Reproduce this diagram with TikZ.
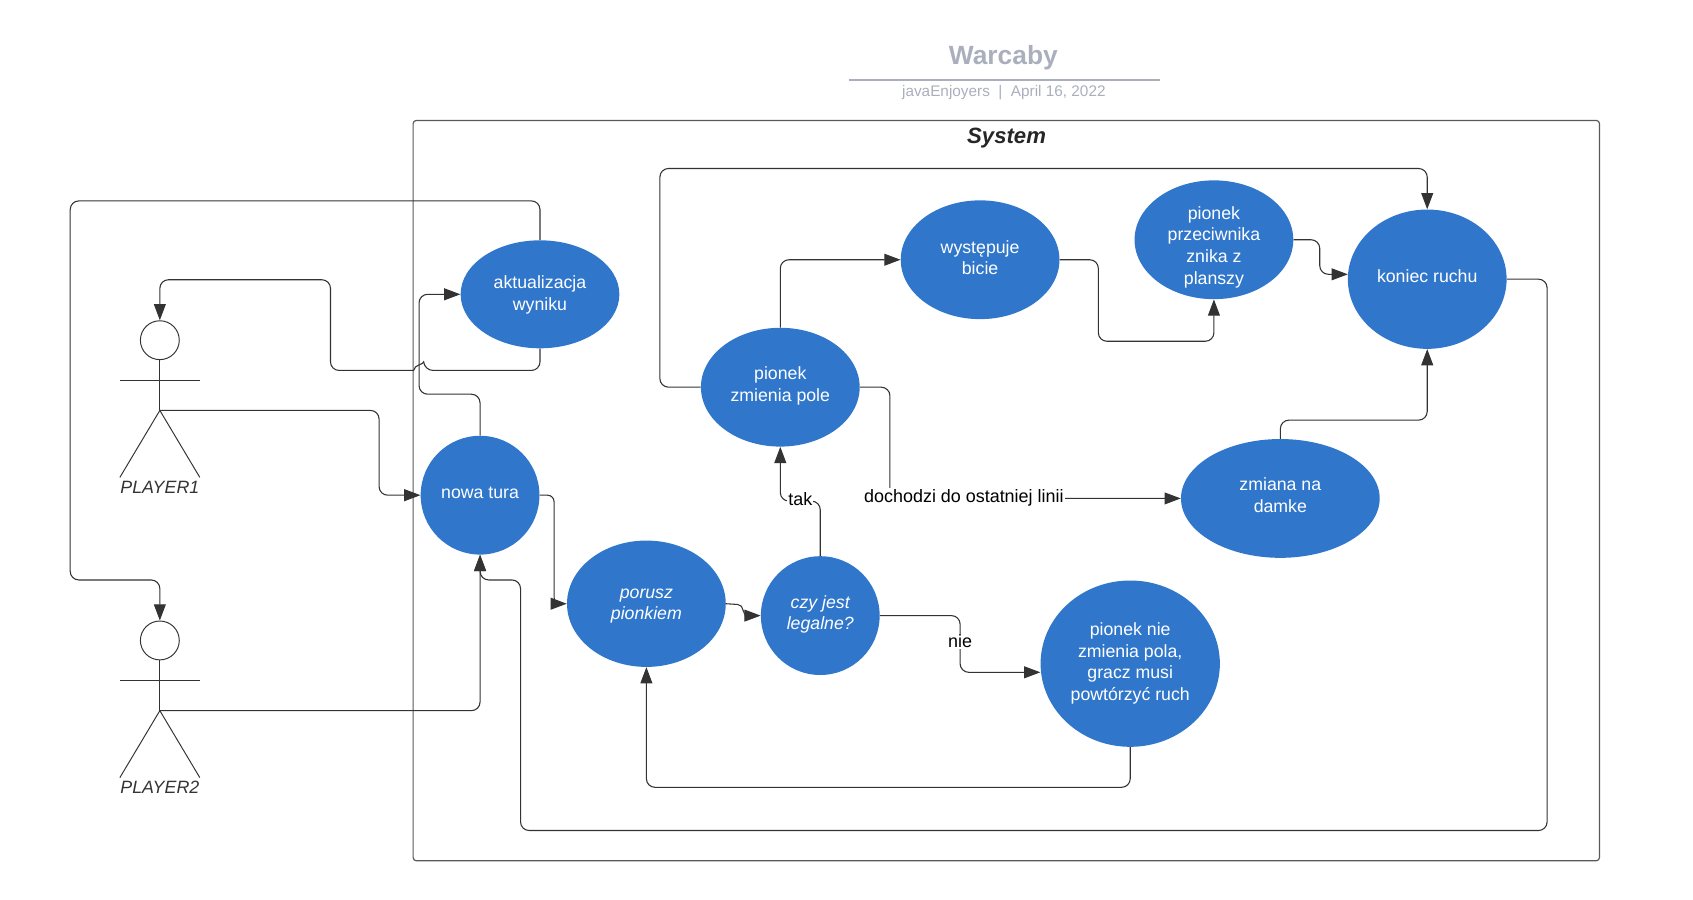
\documentclass[tikz,border=0pt]{standalone}
\usepackage{xcolor}
\usepackage{fontspec}
\setmainfont{Liberation Sans}
\usepackage{tikz}
\usetikzlibrary{shapes.geometric, arrows.meta}
\definecolor{lucidblue}{HTML}{3077CC}
\definecolor{titlegray}{HTML}{A9AFBC}
\definecolor{darkline}{HTML}{333333}
\tikzset{
	usecase/.style={ellipse, fill=lucidblue, text=white, align=center, inner sep=-6pt, font=\fontsize{16.4}{20}\selectfont,
		execute at end node=\rule[-10pt]{0pt}{0pt}},
	texty/.style={execute at begin node=\rule{0pt}{#1pt}},
	conn/.style={darkline, line width=1pt, rounded corners=8pt, -{Triangle[length=15pt, width=11pt]}},
	edgelabel/.style={fill=white, text=black, inner sep=1pt, font=\fontsize{16.6}{20}\selectfont},
	actorline/.style={darkline, line width=0.9pt},
	actorlabel/.style={text=darkline, font=\fontsize{16.5}{20}\selectfont\itshape}
}

\begin{document}
\begin{tikzpicture}[x=1pt, y=-1pt]
	\useasboundingbox (0,0) rectangle (1567.6,833.3);
	\pgfmathsetmacro{\armx}{37}
	
	\node[text=titlegray, font=\fontsize{24.4}{28}\selectfont\bfseries] (title) at (929,53) {Warcaby};
	\draw[titlegray, line width=2pt] (786,74) -- (1074.5,74);
	\node[text=titlegray, font=\fontsize{14.2}{17}\selectfont] (subtitle) at (929.5,86) {javaEnjoyers~~|~~April 16, 2022};
	
	\draw[black!65, line width=1.1pt, rounded corners=3pt] (382.5,111.5) rectangle (1481,797);
	\node[text=black!85, font=\fontsize{20.5}{24}\selectfont\bfseries\itshape] (system) at (932,128) {System};
	
	\node[usecase, texty=40, minimum width=147pt, minimum height=100pt] (aktualizacja) at (500,272.5) {aktualizacja\\wyniku};
	\node[usecase, texty=16, minimum width=110pt, minimum height=110pt] (nowatura) at (444.5,458.5) {nowa tura};
	\node[usecase, texty=40, minimum width=147pt, minimum height=117pt] (porusz) at (598.5,559) {\itshape porusz\\\itshape pionkiem};
	\node[usecase, texty=36, minimum width=110pt, minimum height=110pt] (legalne) at (759.5,570) {\itshape czy jest\\\itshape legalne?};
	\node[usecase, texty=36, minimum width=147pt, minimum height=110pt] (zmienia) at (722.5,358.5) {pionek\\zmienia pole};
	\node[usecase, texty=38, minimum width=147pt, minimum height=110pt] (bicie) at (907.5,240.5) {występuje\\bicie};
	\node[usecase, texty=92, minimum width=147pt, minimum height=110pt, inner sep=-22pt] (znika) at (1124,222) {pionek\\przeciwnika\\znika z\\planszy};
	\node[usecase, texty=16, minimum width=147pt, minimum height=129pt] (koniec) at (1321.5,258.5) {koniec ruchu};
	\node[usecase, texty=36, minimum width=184pt, minimum height=110pt] (damka) at (1185.5,461.5) {zmiana na\\damke};
	\node[usecase, texty=78, minimum width=166pt, minimum height=154pt] (powtorz) at (1046.5,614.5) {pionek nie\\zmienia pola,\\gracz musi\\powtórzyć ruch};
	
	\node[draw=darkline, line width=0.9pt, circle, minimum size=36pt, inner sep=0pt] (player1) at (148,315) {};
	\coordinate (hip1) at (148,380);
	\draw[actorline] (player1.south) -- (hip1);
	\draw[actorline] (148-\armx,352) -- (148+\armx,352);
	\draw[actorline] (148-\armx,442) -- (hip1) -- (148+\armx,442);
	\node[actorlabel] (label1) at (148,451) {PLAYER1};
	
	\node[draw=darkline, line width=0.9pt, circle, minimum size=36pt, inner sep=0pt] (player2) at (148,593) {};
	\coordinate (hip2) at (148,658);
	\draw[actorline] (player2.south) -- (hip2);
	\draw[actorline] (148-\armx,630) -- (148+\armx,630);
	\draw[actorline] (148-\armx,720) -- (hip2) -- (148+\armx,720);
	\node[actorlabel] (label2) at (148,729) {PLAYER2};
	
	\draw[conn] (aktualizacja.north) |- (65,186) -- (65,537) -| (player2.north);
	\draw[conn] (aktualizacja.south) |- (393,343) [sharp corners] .. controls (392.5,337.5) and (383.5,337.5) .. (383,343) [rounded corners=8pt] -- (306,343) -- (306,259) -| (player1.north);
	\draw[conn] (nowatura.north) |- (388,365) -- (388,272.5) -- (aktualizacja.west);
	\draw[conn] (hip1) -| (351,458.5) -- (nowatura.west);
	\draw[conn] (hip2) -| (nowatura.south);
	\draw[conn, rounded corners=6pt] (nowatura.east) -| (513,559) -- (porusz.west);
	\draw[conn, rounded corners=5pt] (porusz.east) -- (688,560) |- (legalne.west);
	\draw[conn] (legalne.north) |- (722.5,464) -- (zmienia.south);
	\draw[conn] (legalne.east) -| (889,622.5) -- (powtorz.west |- 889,622.5);
	\draw[conn] (powtorz.south) |- (598.5,729) -- (porusz.south);
	\draw[conn] (zmienia.north) |- (bicie.west);
	\draw[conn] (bicie.east) -| (1017,316) -| (znika.south);
	\draw[conn] (znika.east) -| (1222,254) -- (1248,254);
	\draw[conn] (zmienia.west) -| (611,156) -| (koniec.north);
	\draw[conn] (zmienia.east) -| (824,461.5) -- (damka.west);
	\draw[conn] (damka.north) |- (1321.5,389) -- (koniec.south);
	\draw[conn] (koniec.east) -| (1432.5,769) -| (482,537) -| (nowatura.south);
	
	\node[edgelabel] (tak) at (741,462) {tak};
	\node[edgelabel] (nie) at (889,594) {nie};
	\node[edgelabel] (linia) at (892.5,461) {dochodzi do ostatniej linii};
\end{tikzpicture}
\end{document}
